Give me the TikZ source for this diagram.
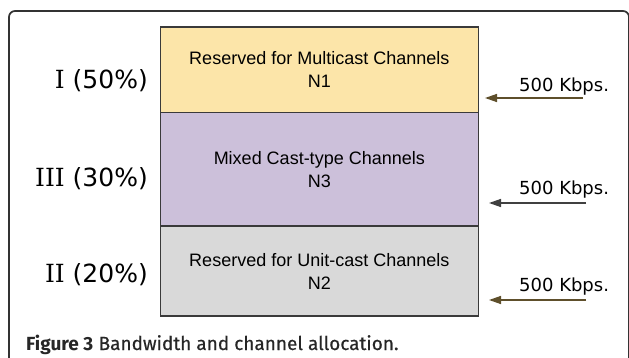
\documentclass[tikz,border=0pt]{standalone}
\usepackage{fontspec}
\setmainfont{Liberation Sans}
\newfontfamily\verd{DejaVu Sans}
\newfontfamily\verdI{DejaVu Serif}
\newfontfamily\capfont{Fira Sans}
\newfontfamily\capfontmed[FakeBold=0.5]{Fira Sans}
\usetikzlibrary{arrows.meta}
\definecolor{yelfill}{HTML}{FCE5A9}
\definecolor{purfill}{HTML}{CCC0DA}
\definecolor{gryfill}{HTML}{D9D9D9}
\definecolor{olivearrow}{HTML}{5E4F2B}
\definecolor{framecol}{HTML}{333333}
\definecolor{boxline}{HTML}{3A3A3A}
\tikzset{
  band/.style={draw=boxline, line width=1.1pt, minimum width=318pt, inner sep=0pt,
    align=center, font=\fontsize{18}{23}\selectfont},
  pctlabel/.style={anchor=base east, inner sep=0pt, font=\verd\fontsize{25}{30}\selectfont},
  ratelabel/.style={anchor=base west, inner sep=0pt, font=\verd\fontsize{18}{22}\selectfont},
  ratearrow/.style={line width=1.4pt, -{Triangle[length=12pt,width=8pt]}},
}
\begin{document}
\begin{tikzpicture}[x=1pt,y=-1pt]
\useasboundingbox (0,0) rectangle (629,358);
\clip (0,0) rectangle (629,358);
\fill[white] (0,0) rectangle (629,358);
% outer frame
\draw[framecol, line width=1.7pt, rounded corners=6pt] (9,380) -- (9,11) -- (629,11) -- (629,380);
% bands
\node[band, fill=yelfill, minimum height=85.7pt] (b1) at (319.3,69.85) {Reserved for Multicast Channels\\N1};
\node[band, fill=purfill, minimum height=113.3pt] (b3) at (319.3,169.35) {Mixed Cast-type Channels\\N3};
\node[band, fill=gryfill, minimum height=90pt] (b2) at (319.3,271) {Reserved for Unit-cast Channels\\N2};
% percentage labels
\node[pctlabel] (p1) at (148,89) {{\verdI I}\ (50\%)};
\node[pctlabel] (p3) at (148,186.5) {{\verdI III}\ (30\%)};
\node[pctlabel] (p2) at (148,282) {{\verdI II}\ (20\%)};
% rate labels
\node[ratelabel] (r1) at (519,91.5) {500 Kbps.};
\node[ratelabel] (r3) at (519,194.5) {500 Kbps.};
\node[ratelabel] (r2) at (519,291.5) {500 Kbps.};
% arrows
\coordinate (t1) at (583,98);  \coordinate (h1) at (485,98);
\coordinate (t3) at (586,203); \coordinate (h3) at (489,203);
\coordinate (t2) at (586,300); \coordinate (h2) at (489,300);
\draw[ratearrow, olivearrow] (t1) -- (h1);
\draw[ratearrow, black!75] (t3) -- (h3);
\draw[ratearrow, olivearrow] (t2) -- (h2);
% caption
\node[anchor=base west, inner sep=0pt, font=\fontsize{19}{22}\selectfont, text=black!85] (cap) at (26,350)
  {{\capfont\bfseries Figure 3} {\capfontmed Bandwidth and channel allocation.}};
\end{tikzpicture}
\end{document}
